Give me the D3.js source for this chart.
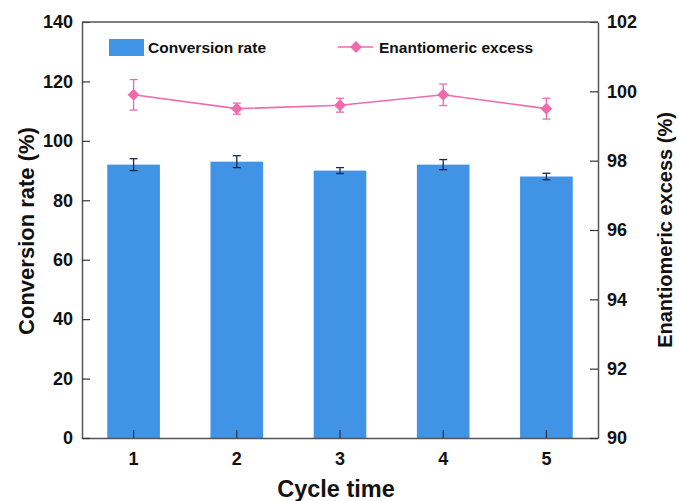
<!DOCTYPE html>
<html>
<head>
<meta charset="utf-8">
<script src="https://cdn.jsdelivr.net/npm/d3@7"></script>
<style>
  body { margin: 0; background: #fff; }
  svg text { font-family: "Liberation Sans", Arial, sans-serif; }
</style>
</head>
<body>
<div id="wrapper"></div>
<script>
// data
const cycles = ["1", "2", "3", "4", "5"];
const conversion = [92, 93, 90, 92, 88];
const conversionErr = [2, 2, 1, 1.7, 1.1];
const eeValues = [99.9, 99.5, 99.6, 99.9, 99.5];
const eeErr = [0.44, 0.16, 0.2, 0.31, 0.3];
const leftTicks = [0, 20, 40, 60, 80, 100, 120, 140];
const rightTicks = [90, 92, 94, 96, 98, 100, 102];

const width = 679;
const height = 501;
const margin = { top: 22, right: 81, bottom: 63, left: 82 };
const innerW = width - margin.left - margin.right;
const innerH = height - margin.top - margin.bottom;

const barColor = "#4193e6";
const pink = "#f06aae";
const axisColor = "#555";

const svg = d3.select("#wrapper")
              .append("svg")
              .attr("width", width)
              .attr("height", height);

const g = svg.append("g")
             .attr("transform", "translate(" + margin.left + "," + margin.top + ")");

const x = d3.scaleBand()
            .domain(cycles)
            .range([0, innerW])
            .paddingInner(0.49)
            .paddingOuter(0.245);

const yLeft = d3.scaleLinear().domain([0, 140]).range([innerH, 0]);
const yRight = d3.scaleLinear().domain([90, 102]).range([innerH, 0]);

const cx = i => x(cycles[i]) + x.bandwidth() / 2;

// bars
g.selectAll(".bar")
 .data(conversion)
 .enter()
 .append("rect")
   .attr("class", "bar")
   .attr("x", (d, i) => x(cycles[i]))
   .attr("y", d => yLeft(d))
   .attr("width", x.bandwidth())
   .attr("height", d => innerH - yLeft(d))
   .style("fill", barColor);

// error bars, drawn the same way for both series
function errorBars(cls, values, errs, scale, color) {
  const eg = g.selectAll("." + cls)
              .data(values)
              .enter()
              .append("g")
              .attr("class", cls)
              .attr("transform", (d, i) => "translate(" + cx(i) + ",0)");
  eg.append("line")
    .attr("y1", (d, i) => scale(d - errs[i]))
    .attr("y2", (d, i) => scale(d + errs[i]));
  eg.append("line")
    .attr("x1", -4).attr("x2", 4)
    .attr("y1", (d, i) => scale(d - errs[i]))
    .attr("y2", (d, i) => scale(d - errs[i]));
  eg.append("line")
    .attr("x1", -4).attr("x2", 4)
    .attr("y1", (d, i) => scale(d + errs[i]))
    .attr("y2", (d, i) => scale(d + errs[i]));
  eg.selectAll("line")
    .style("stroke", color)
    .style("stroke-width", 1.3);
}

errorBars("barErr", conversion, conversionErr, yLeft, "#1c2b45");

// axes (ticks point inward)
const axisBottom = d3.axisBottom(x).tickSizeInner(-8).tickSizeOuter(0).tickPadding(14);
const axisLeft = d3.axisLeft(yLeft).tickValues(leftTicks).tickSizeInner(-8).tickSizeOuter(0).tickPadding(9);
const axisRight = d3.axisRight(yRight).tickValues(rightTicks).tickSizeInner(-8).tickSizeOuter(0).tickPadding(9);

const gx = g.append("g").attr("transform", "translate(0," + innerH + ")").call(axisBottom);
const gl = g.append("g").call(axisLeft);
const gr = g.append("g").attr("transform", "translate(" + innerW + ",0)").call(axisRight);

// top border
g.append("line")
 .attr("x1", 0).attr("x2", innerW)
 .attr("y1", 0).attr("y2", 0)
 .style("stroke", axisColor)
 .style("stroke-width", 1.5);

[gx, gl, gr].forEach(a => {
  a.select(".domain").style("stroke", axisColor).style("stroke-width", 1.5);
  a.selectAll(".tick line").style("stroke", "#333").style("stroke-width", 1.2);
  a.selectAll(".tick text")
   .style("font-size", "18px")
   .style("font-weight", "bold")
   .style("fill", "#111");
});
gx.selectAll(".tick text").attr("dy", "0.71em");

// ee line + error bars + diamonds
errorBars("eeErr", eeValues, eeErr, yRight, pink);

const line = d3.line()
               .x((d, i) => cx(i))
               .y(d => yRight(d));

g.append("path")
 .datum(eeValues)
 .attr("d", line)
 .style("fill", "none")
 .style("stroke", pink)
 .style("stroke-width", 1.6);

const diamond = d3.symbol().type(d3.symbolDiamond2).size(90);
g.selectAll(".dia")
 .data(eeValues)
 .enter()
 .append("path")
   .attr("class", "dia")
   .attr("d", diamond)
   .attr("transform", (d, i) => "translate(" + cx(i) + "," + yRight(d) + ")")
   .style("fill", pink);

// legend
const legend = svg.append("g");
legend.append("rect")
      .attr("x", 109).attr("y", 39)
      .attr("width", 35).attr("height", 17)
      .style("fill", barColor);
legend.append("text")
      .attr("x", 148).attr("y", 53)
      .text("Conversion rate")
      .style("font-size", "15.5px")
      .style("font-weight", "bold")
      .style("fill", "#111");
legend.append("line")
      .attr("x1", 338).attr("x2", 373)
      .attr("y1", 47).attr("y2", 47)
      .style("stroke", pink)
      .style("stroke-width", 1.6);
legend.append("path")
      .attr("d", diamond)
      .attr("transform", "translate(356,47)")
      .style("fill", pink);
legend.append("text")
      .attr("x", 379).attr("y", 53)
      .text("Enantiomeric excess")
      .style("font-size", "15.5px")
      .style("font-weight", "bold")
      .style("fill", "#111");

// axis titles
svg.append("text")
   .attr("transform", "translate(336,497)")
   .attr("text-anchor", "middle")
   .text("Cycle time")
   .style("font-size", "23.5px")
   .style("font-weight", "bold")
   .style("fill", "#111");

svg.append("text")
   .attr("transform", "translate(34,231) rotate(-90)")
   .attr("text-anchor", "middle")
   .text("Conversion rate (%)")
   .style("font-size", "22px")
   .style("font-weight", "bold")
   .style("fill", "#111");

svg.append("text")
   .attr("transform", "translate(672,230) rotate(-90)")
   .attr("text-anchor", "middle")
   .text("Enantiomeric excess (%)")
   .style("font-size", "20px")
   .style("font-weight", "bold")
   .style("fill", "#111");
</script>
</body>
</html>
